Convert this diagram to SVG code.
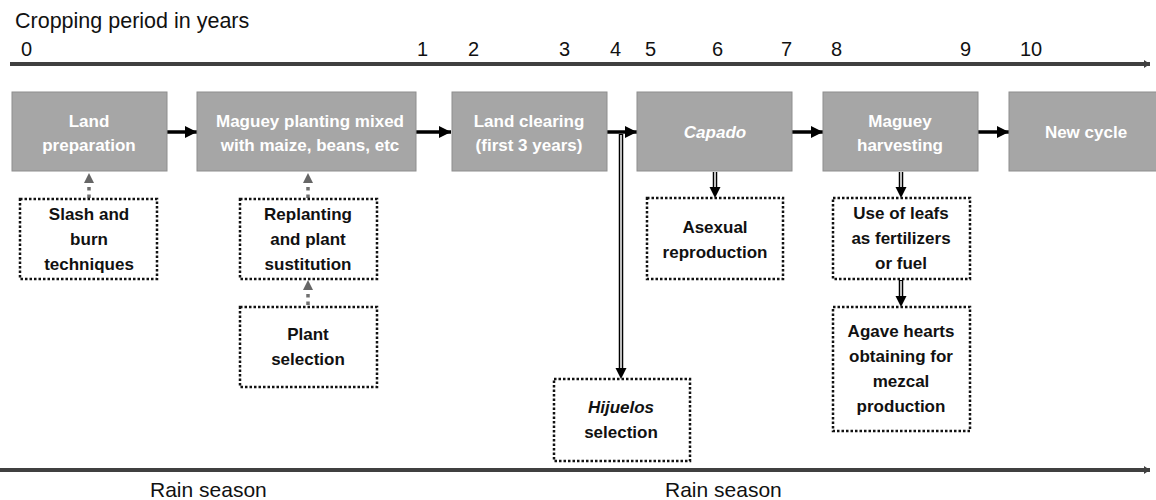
<svg xmlns="http://www.w3.org/2000/svg" width="1156" height="500" viewBox="0 0 1156 500">
<style>
.lbl{font-family:"Liberation Sans",Arial,sans-serif;font-size:20px;fill:#111}
.proc rect{fill:#a6a6a6;stroke:#8e8e8e;stroke-width:1}
.proc text{font-family:"Liberation Sans",Arial,sans-serif;font-size:17px;font-weight:bold;fill:#ffffff;text-anchor:middle}
.note rect{fill:#ffffff;stroke:#111;stroke-width:2.5;stroke-dasharray:2.5 2}
.note text{font-family:"Liberation Sans",Arial,sans-serif;font-size:17px;font-weight:bold;fill:#111;text-anchor:middle}
.axis{stroke:#404040;stroke-width:4}
.flow{stroke:#000;stroke-width:3.5}
.dbl-o{stroke:#000;stroke-width:4.5}
.dbl-i{stroke:#fff;stroke-width:1.5}
.gdot{stroke:#707070;stroke-width:3.5;stroke-dasharray:3.5 4}
</style>
<defs>
<marker id="ah" markerUnits="userSpaceOnUse" markerWidth="12" markerHeight="12" refX="10" refY="5" orient="auto" viewBox="0 0 10 10">
<path d="M0,0 L10,5 L0,10 Z" fill="#000"/>
</marker>
<marker id="axh" markerUnits="userSpaceOnUse" markerWidth="8" markerHeight="10" refX="6" refY="5" orient="auto" viewBox="0 0 6 10">
<path d="M0,1 L6,5 L0,9 Z" fill="#404040"/>
</marker>
</defs>

<g id="axes">
<text class="lbl" x="15" y="28" style="font-size:21.5px">Cropping period in years</text>
<text class="lbl" x="21" y="56">0</text>
<text class="lbl" x="417" y="56">1</text>
<text class="lbl" x="468" y="56">2</text>
<text class="lbl" x="559" y="56">3</text>
<text class="lbl" x="610" y="56">4</text>
<text class="lbl" x="645" y="56">5</text>
<text class="lbl" x="712" y="56">6</text>
<text class="lbl" x="781" y="56">7</text>
<text class="lbl" x="831" y="56">8</text>
<text class="lbl" x="960" y="56">9</text>
<text class="lbl" x="1020" y="56">10</text>
<line class="axis" x1="10" y1="64" x2="1150" y2="64" marker-end="url(#axh)"/>
<line class="axis" x1="0" y1="470" x2="1150" y2="470" marker-end="url(#axh)"/>
<text class="lbl" x="150" y="497" style="font-size:21px">Rain season</text>
<text class="lbl" x="665" y="497" style="font-size:21px">Rain season</text>
</g>

<g id="connectors">
<line class="flow" x1="167" y1="132" x2="197" y2="132" marker-end="url(#ah)"/>
<line class="flow" x1="416" y1="132" x2="451" y2="132" marker-end="url(#ah)"/>
<line class="flow" x1="607" y1="132" x2="637" y2="132" marker-end="url(#ah)"/>
<line class="flow" x1="792" y1="132" x2="823" y2="132" marker-end="url(#ah)"/>
<line class="flow" x1="978" y1="132" x2="1009" y2="132" marker-end="url(#ah)"/>

<line class="dbl-o" x1="621" y1="134" x2="621" y2="370"/>
<line class="dbl-i" x1="621" y1="135" x2="621" y2="370"/>
<path d="M615.5,368 L626.5,368 L621,379 Z" fill="#000"/>

<line class="dbl-o" x1="715" y1="172" x2="715" y2="189"/>
<line class="dbl-i" x1="715" y1="172" x2="715" y2="189"/>
<path d="M709.5,187 L720.5,187 L715,198 Z" fill="#000"/>

<line class="dbl-o" x1="901" y1="172" x2="901" y2="189"/>
<line class="dbl-i" x1="901" y1="172" x2="901" y2="189"/>
<path d="M895.5,187 L906.5,187 L901,198 Z" fill="#000"/>

<line class="dbl-o" x1="901" y1="280" x2="901" y2="298"/>
<line class="dbl-i" x1="901" y1="281" x2="901" y2="298"/>
<path d="M895.5,296 L906.5,296 L901,307 Z" fill="#000"/>

<line class="gdot" x1="89" y1="198" x2="89" y2="183"/>
<path d="M84,183 L94,183 L89,173 Z" fill="#666"/>
<line class="gdot" x1="308" y1="198" x2="308" y2="183"/>
<path d="M303,183 L313,183 L308,173 Z" fill="#666"/>
<line class="gdot" x1="308" y1="305" x2="308" y2="290"/>
<path d="M303,290 L313,290 L308,280 Z" fill="#666"/>
</g>

<g id="n-land-prep" class="proc">
<rect x="12" y="92" width="155" height="79"/>
<text x="89" y="127">Land</text>
<text x="89" y="151">preparation</text>
</g>
<g id="n-planting" class="proc">
<rect x="197" y="92" width="219" height="79"/>
<text x="310" y="127">Maguey planting mixed</text>
<text x="310" y="151">with maize, beans, etc</text>
</g>
<g id="n-clearing" class="proc">
<rect x="452" y="92" width="155" height="79"/>
<text x="529" y="127">Land clearing</text>
<text x="529" y="151">(first 3 years)</text>
</g>
<g id="n-capado" class="proc">
<rect x="637" y="92" width="155" height="79"/>
<text x="715" y="138" font-style="italic">Capado</text>
</g>
<g id="n-harvest" class="proc">
<rect x="823" y="92" width="155" height="79"/>
<text x="900" y="127">Maguey</text>
<text x="900" y="151">harvesting</text>
</g>
<g id="n-newcycle" class="proc">
<rect x="1009" y="92" width="150" height="79"/>
<text x="1086" y="138">New cycle</text>
</g>

<g id="n-slash" class="note">
<rect x="20" y="199" width="137" height="80"/>
<text x="89" y="220">Slash and</text>
<text x="89" y="245">burn</text>
<text x="89" y="270">techniques</text>
</g>
<g id="n-replant" class="note">
<rect x="240" y="199" width="137" height="80"/>
<text x="308" y="220">Replanting</text>
<text x="308" y="245">and plant</text>
<text x="308" y="270">sustitution</text>
</g>
<g id="n-plantsel" class="note">
<rect x="240" y="307" width="137" height="80"/>
<text x="308" y="340">Plant</text>
<text x="308" y="365">selection</text>
</g>
<g id="n-hijuelos" class="note">
<rect x="554" y="379" width="136" height="82"/>
<text x="621" y="413" font-style="italic">Hijuelos</text>
<text x="621" y="438">selection</text>
</g>
<g id="n-asexual" class="note">
<rect x="647" y="198" width="136" height="81"/>
<text x="715" y="233">Asexual</text>
<text x="715" y="258">reproduction</text>
</g>
<g id="n-leafs" class="note">
<rect x="833" y="198" width="137" height="81"/>
<text x="901" y="219">Use of leafs</text>
<text x="901" y="244">as fertilizers</text>
<text x="901" y="269">or fuel</text>
</g>
<g id="n-agave" class="note">
<rect x="833" y="307" width="137" height="124"/>
<text x="901" y="337">Agave hearts</text>
<text x="901" y="362">obtaining for</text>
<text x="901" y="387">mezcal</text>
<text x="901" y="412">production</text>
</g>
</svg>
